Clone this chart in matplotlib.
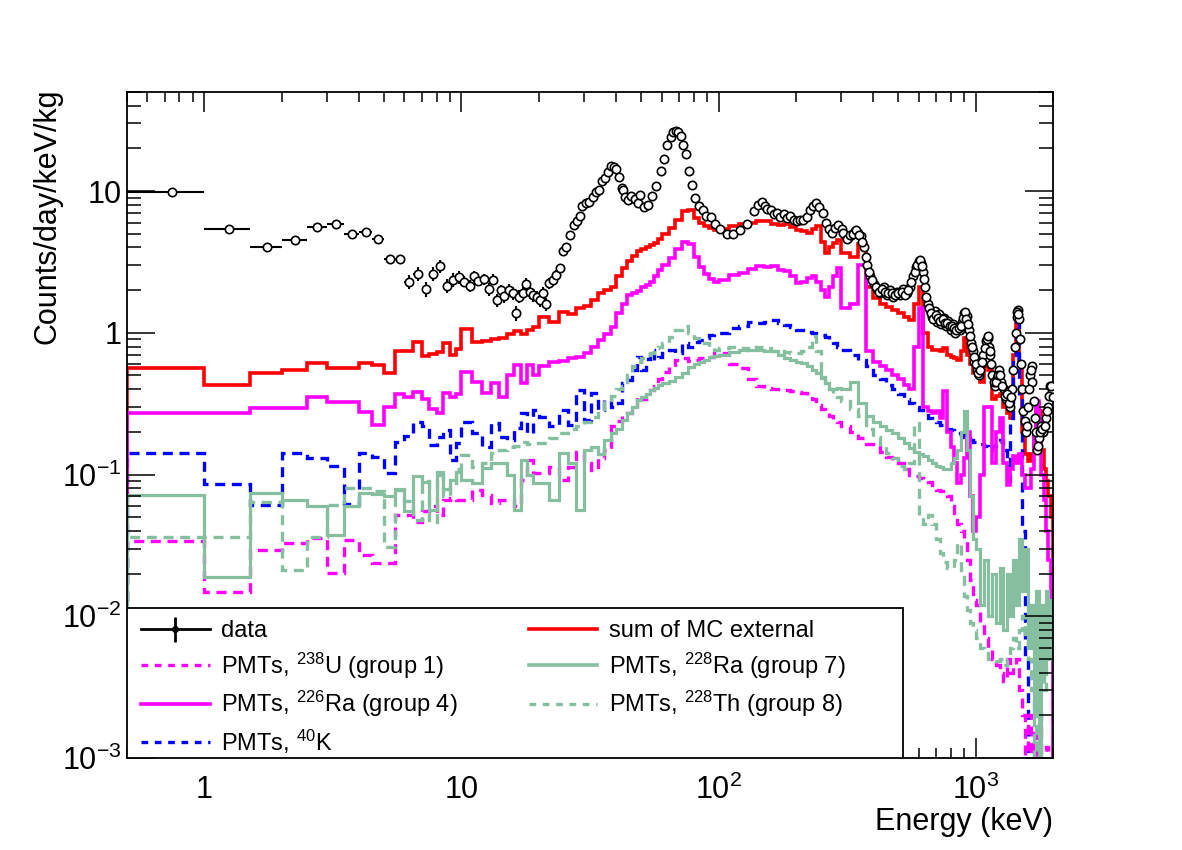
import numpy as np
import matplotlib
matplotlib.use("Agg")
import matplotlib.pyplot as plt
from matplotlib.lines import Line2D
from matplotlib.patches import Rectangle
from matplotlib.legend_handler import HandlerTuple
from matplotlib.ticker import FixedLocator, FixedFormatter, LogLocator, NullFormatter

plt.rcParams['font.family'] = ['Liberation Sans', 'DejaVu Sans']
plt.rcParams['mathtext.fontset'] = 'custom'
plt.rcParams['mathtext.rm'] = 'Liberation Sans'
plt.rcParams['mathtext.it'] = 'Liberation Sans:italic'
plt.rcParams['mathtext.bf'] = 'Liberation Sans:bold'
plt.rcParams['mathtext.default'] = 'regular'

# ---- data points (counts/day/keV/kg) ----
# 0.5 keV wide bins below 10 keV
low_e = [0.75, 1.25, 1.75, 2.25, 2.75, 3.25, 3.75, 4.25, 4.75, 5.25,
         5.75, 6.25, 6.75, 7.25, 7.75, 8.25, 8.75, 9.25, 9.75]
low_v = [9.9, 5.42, 4.06, 4.51, 5.57, 5.88, 4.94, 5.16, 4.59, 3.31,
         3.31, 2.30, 2.61, 2.05, 2.61, 2.94, 2.15, 2.37, 2.47]
low_err = [0.3, 0.2, 0.15, 0.17, 0.2, 0.22, 0.22, 0.25, 0.25, 0.25,
           0.25, 0.25, 0.28, 0.25, 0.28, 0.3, 0.25, 0.27, 0.27]
low_halfwidth = 0.25

mid_e = [10.2, 10.8, 11.2, 11.6, 12.2, 12.8, 13.3, 13.8, 14.2, 14.7, 15.3, 15.9, 16.3,
         16.8, 17.4, 17.9, 18.4, 19.0, 19.6, 20.2, 20.7, 21.3, 22.0, 22.7, 23.4, 24.2]
mid_v = [2.30, 2.15, 2.52, 2.33, 2.39, 2.03, 2.37, 1.71, 1.99, 1.82, 2.01, 1.91, 1.38,
         1.80, 1.91, 2.22, 1.93, 1.85, 1.79, 1.71, 1.91, 1.60, 2.24, 2.37, 2.56, 2.86]
mid_err = [0.2, 0.2, 0.22, 0.2, 0.21, 0.2, 0.21, 0.18, 0.2, 0.19, 0.2, 0.2, 0.17,
           0.19, 0.2, 0.21, 0.19, 0.19, 0.18, 0.18, 0.19, 0.17, 0.2, 0.2, 0.2, 0.21]

high_e = [24.9, 25.6, 26.4, 27.4, 28.1, 28.8, 29.5, 30.5, 31.4, 32.4, 33.3, 34.3, 35.3,
          36.3, 37.3, 38.2, 39.1, 39.8, 40.9, 42.0, 42.6, 43.3, 44.5, 45.8, 47.2, 48.6,
          49.3, 51.1, 53.2, 54.9, 56.9, 59.5, 61.1, 63.3, 65.2, 66.5, 68.1, 69.6, 71.4,
          73.0, 74.7, 76.6, 79.1, 80.9, 84.0, 86.8, 89.5, 93.1, 96.9, 101.7, 107.7, 114.3,
          121.5, 128.6, 136.8, 143, 147, 151, 155, 160, 164, 169, 174, 179, 185, 190, 196,
          202, 208, 214, 220, 227, 233, 240, 247, 254, 261, 268, 276, 284, 292, 301, 310,
          319, 328, 338, 348, 358, 368, 379, 390, 402, 414, 426, 439, 452, 465, 479, 493,
          508, 523, 539, 555, 571, 588, 600, 612, 624, 637, 650, 664, 678, 692, 706, 721,
          736, 752, 768, 784, 800, 817, 834, 851, 869, 887, 905, 915, 924, 943, 962, 975,
          990, 1010, 1030, 1051, 1072, 1094, 1116, 1128, 1140, 1163, 1186, 1210, 1234,
          1259, 1284, 1310, 1336, 1363, 1390, 1418, 1446, 1460, 1475, 1505, 1535, 1566,
          1597, 1630, 1650, 1663, 1697, 1731, 1765, 1800, 1836, 1873, 1911, 1949, 1980]
high_v = [3.75, 4.06, 4.92, 5.78, 6.10, 6.62, 7.86, 8.25, 8.44, 9.07, 9.91, 10.2, 11.7,
          12.3, 13.7, 15.1, 14.7, 14.3, 12.6, 10.5, 10.2, 9.07, 8.68, 9.16, 8.75, 8.25,
          9.4, 7.7, 8.0, 9.24, 10.8, 13.9, 16.8, 21.2, 23.9, 26.2, 26.6, 25.9, 24.3,
          21.2, 18.4, 13.9, 11.0, 8.9, 7.9, 7.4, 6.7, 6.6, 5.9, 5.4, 5.0, 5.0,
          5.3, 5.9, 7.2, 8.0, 8.4, 7.9, 7.5, 7.3, 6.9, 7.0, 6.6, 6.9, 6.5, 6.7, 6.3,
          6.1, 6.3, 6.2, 6.6, 7.4, 7.9, 8.2, 7.7, 7.0, 6.0, 5.4, 5.1, 5.5, 5.8, 5.4, 4.9,
          4.7, 4.9, 5.2, 5.1, 4.8, 4.0, 3.0, 2.5, 2.2, 2.05, 1.9, 2.1, 1.85, 2.0, 1.8, 1.95,
          1.85, 2.05, 1.9, 2.1, 2.5, 2.9, 3.2, 3.1, 2.7, 2.1, 1.6, 1.45, 1.3, 1.42, 1.2, 1.35,
          1.15, 1.28, 1.12, 1.22, 1.05, 1.15, 1.0, 1.1, 1.05, 1.2, 1.38, 1.3, 1.32, 1.05, 0.85, 0.75,
          0.62, 0.55, 0.5, 0.6, 0.7, 0.88, 0.92, 0.8, 0.7, 0.5, 0.42, 0.48, 0.55,
          0.45, 0.4, 0.34, 0.38, 0.3, 0.4, 0.8, 1.3, 1.45, 1.25, 0.6, 0.28, 0.2,
          0.3, 0.5, 0.58, 0.45, 0.25, 0.15, 0.18, 0.22, 0.2, 0.25, 0.3, 0.42, 0.38]
# further data points filling the dense band above 300 keV
band_e = [305, 315, 324, 333, 343, 353, 363, 374, 384, 396, 408, 420, 432, 446, 458, 472,
          486, 500, 515, 531, 547, 563, 580, 594, 606, 618, 630, 643, 657, 671, 685, 699,
          713, 728, 744, 760, 776, 792, 808, 825, 842, 860, 878, 896, 910, 920, 933, 952,
          968, 982, 1000, 1020, 1040, 1061, 1083, 1105, 1122, 1134, 1151, 1175, 1198, 1222,
          1246, 1271, 1297, 1323, 1350, 1376, 1404, 1432, 1453, 1468, 1490, 1520, 1550,
          1582, 1613, 1640, 1680, 1714, 1748, 1782, 1818, 1855, 1892, 1930, 1965, 1995]
band_v = [5.1, 4.6, 4.9, 5.0, 5.3, 4.9, 4.4, 3.4, 2.7, 2.35, 2.1, 1.95, 2.05, 1.95, 1.9, 1.9,
          1.85, 1.9, 1.95, 1.85, 2.0, 2.3, 2.7, 3.0, 3.25, 2.95, 2.4, 1.8, 1.5, 1.38, 1.25, 1.33,
          1.28, 1.22, 1.25, 1.18, 1.18, 1.12, 1.12, 1.08, 1.05, 1.08, 1.12, 1.28, 1.4, 1.25, 1.15, 0.95,
          0.8, 0.68, 0.6, 0.52, 0.55, 0.62, 0.78, 0.9, 0.95, 0.75, 0.6, 0.45, 0.45, 0.5,
          0.5, 0.42, 0.36, 0.37, 0.32, 0.35, 0.55, 1.0, 1.4, 1.35, 0.9, 0.4, 0.24,
          0.22, 0.4, 0.55, 0.33, 0.2, 0.16, 0.2, 0.21, 0.22, 0.28, 0.36, 0.42, 0.35]

# ---- MC histograms, common binning (keV) ----
mc_edges = np.concatenate([np.arange(0.5, 10, 0.5), np.arange(10, 20, 1),
                           np.arange(20, 60, 2), np.arange(60, 100, 4),
                           np.arange(100, 300, 10), np.arange(300, 1000, 25),
                           np.arange(1000, 2001, 40)])

sum_mc = [0.56, 0.43, 0.52, 0.55, 0.61, 0.56, 0.56, 0.61, 0.59, 0.52, 0.74, 0.74, 0.86, 0.69, 0.71, 0.73, 0.85, 0.70, 0.77,
          1.06, 0.86, 0.88, 0.90, 0.92, 0.98, 1.03, 0.98, 1.05, 1.10,
          1.30, 1.20, 1.40, 1.35, 1.50, 1.55, 1.71, 1.90, 2.00, 2.12, 2.50, 2.86, 3.19, 3.50, 3.76, 3.90, 4.00, 4.15, 4.30, 4.60,
          5.0, 5.5, 6.3, 7.2, 7.4, 6.5, 6.0, 5.7, 5.5, 5.3,
          5.4, 5.64, 5.9, 6.0, 6.13, 6.1, 5.9, 5.8, 5.9, 5.6, 5.34, 5.2, 5.06, 5.4, 5.64, 4.4, 3.66, 4.0, 4.3, 4.54,
          3.66, 3.40, 4.20, 2.10, 1.75, 1.60, 1.53, 1.45, 1.38, 1.30, 1.24, 1.60, 2.10, 1.00, 0.80, 0.76, 0.76, 0.74,
          0.78, 0.70, 0.68, 0.66, 0.64, 0.75, 0.92, 0.70, 0.60, 0.52,
          0.50, 0.45, 0.58, 0.55, 0.34, 0.36, 0.37, 0.30, 0.27, 0.25, 0.70, 1.40, 0.60, 0.20, 0.14, 0.125, 0.14, 0.20,
          0.32, 0.28, 0.15, 0.11, 0.09, 0.07, 0.05]
ra226 = [0.27, 0.272, 0.294, 0.294, 0.355, 0.327, 0.327, 0.278, 0.224, 0.30, 0.37, 0.35, 0.38, 0.34, 0.29, 0.27, 0.375, 0.35, 0.37,
         0.53, 0.45, 0.375, 0.44, 0.355, 0.50, 0.59, 0.44, 0.59, 0.50,
         0.58, 0.62, 0.63, 0.66, 0.68, 0.72, 0.80, 0.89, 0.98, 1.10, 1.38, 1.60, 1.86, 1.90, 1.96, 2.10, 2.18, 2.30, 2.50, 2.79,
         3.0, 3.37, 3.9, 4.4, 4.2, 3.4, 2.9, 2.6, 2.4, 2.3,
         2.37, 2.57, 2.64, 2.80, 2.94, 2.90, 2.94, 2.79, 2.75, 2.50, 2.24, 2.30, 2.45, 2.50, 2.30, 2.00, 1.80, 2.10, 2.50, 2.86,
         1.50, 1.60, 3.00, 0.75, 0.62, 0.58, 0.55, 0.50, 0.47, 0.43, 0.40, 0.80, 1.50, 0.30, 0.28, 0.27, 0.28, 0.25,
         0.39, 0.20, 0.157, 0.12, 0.087, 0.10, 0.13, 0.20, 0.07, 0.04,
         0.05, 0.10, 0.30, 0.30, 0.12, 0.20, 0.25, 0.12, 0.085, 0.11, 0.135, 0.12, 0.14, 0.10, 0.08, 0.08, 0.11, 0.20,
         0.33, 0.25, 0.10, 0.066, 0.04, 0.025, 0.006]
k40 = [0.141, 0.086, 0.061, 0.141, 0.13, 0.115, 0.062, 0.143, 0.134, 0.103, 0.171, 0.187, 0.236, 0.22, 0.162, 0.185, 0.206, 0.127, 0.167,
       0.236, 0.196, 0.157, 0.23, 0.185, 0.176, 0.212, 0.27, 0.196, 0.286,
       0.256, 0.22, 0.286, 0.224, 0.396, 0.243, 0.375, 0.286, 0.337, 0.30, 0.32, 0.44, 0.466, 0.55, 0.68, 0.548, 0.65, 0.76, 0.64, 0.68,
       0.72, 0.76, 0.72, 0.85, 0.80, 0.86, 0.89, 0.92, 0.96, 1.00,
       1.00, 1.08, 1.12, 1.20, 1.17, 1.20, 1.24, 1.17, 1.14, 1.10, 1.05, 1.04, 1.02, 1.00, 0.98, 0.96, 0.94, 0.90, 0.85, 0.80,
       0.76, 0.70, 0.64, 0.58, 0.50, 0.47, 0.43, 0.40, 0.37, 0.34, 0.32, 0.30, 0.286, 0.27, 0.25, 0.243, 0.235, 0.225,
       0.22, 0.21, 0.205, 0.20, 0.196, 0.19, 0.185, 0.18, 0.176, 0.17,
       0.17, 0.165, 0.16, 0.15, 0.16, 0.17, 0.176, 0.15, 0.09, 0.25, 0.70, 1.35, 0.35, 0.04, 0.005, 0, 0, 0,
       0, 0, 0, 0, 0, 0, 0]
u238 = [0.034, 0.0149, 0.0294, 0.0327, 0.0355, 0.0201, 0.0344, 0.027, 0.0237, 0.0237, 0.052, 0.052, 0.0465, 0.055, 0.06, 0.052, 0.066, 0.068, 0.066,
        0.066, 0.078, 0.072, 0.063, 0.066, 0.066, 0.06, 0.092, 0.127, 0.103,
        0.103, 0.113, 0.092, 0.113, 0.145, 0.12, 0.108, 0.13, 0.149, 0.22, 0.24, 0.263, 0.27, 0.286, 0.355, 0.34, 0.37, 0.396, 0.42, 0.47,
        0.53, 0.57, 0.64, 0.66, 0.63, 0.64, 0.66, 0.66, 0.68, 0.72,
        0.72, 0.60, 0.56, 0.47, 0.42, 0.41, 0.40, 0.40, 0.396, 0.39, 0.38, 0.375, 0.36, 0.34, 0.31, 0.29, 0.28, 0.26, 0.245, 0.235,
        0.22, 0.20, 0.18, 0.165, 0.157, 0.145, 0.134, 0.125, 0.12, 0.11, 0.10, 0.097, 0.094, 0.092, 0.088, 0.08, 0.078, 0.076,
        0.074, 0.07, 0.06, 0.05, 0.045, 0.04, 0.034, 0.025, 0.018, 0.013,
        0.012, 0.009, 0.007, 0.006, 0.005, 0.0045, 0.004, 0.0035, 0.005, 0.004, 0.0045, 0.005, 0.003, 0.002, 0, 0.002, 0, 0.0015,
        0, 0.002, 0, 0, 0.0012, 0, 0]
ra228 = [0.072, 0.019, 0.074, 0.066, 0.060, 0.0375, 0.060, 0.074, 0.073, 0.070, 0.079, 0.055, 0.097, 0.089, 0.056, 0.105, 0.079, 0.092, 0.105,
         0.092, 0.087, 0.111, 0.12, 0.12, 0.10, 0.056, 0.127, 0.10, 0.087,
         0.087, 0.066, 0.141, 0.12, 0.056, 0.149, 0.157, 0.14, 0.176, 0.196, 0.21, 0.243, 0.27, 0.30, 0.337, 0.35, 0.37, 0.396, 0.41, 0.43,
         0.44, 0.46, 0.49, 0.52, 0.57, 0.60, 0.62, 0.645, 0.67, 0.69,
         0.70, 0.73, 0.76, 0.76, 0.76, 0.75, 0.74, 0.70, 0.66, 0.64, 0.62, 0.61, 0.58, 0.55, 0.52, 0.48, 0.44, 0.40, 0.40, 0.41,
         0.40, 0.45, 0.32, 0.26, 0.235, 0.22, 0.205, 0.196, 0.18, 0.167, 0.155, 0.145, 0.14, 0.135, 0.127, 0.12, 0.115, 0.113,
         0.11, 0.11, 0.12, 0.13, 0.15, 0.20, 0.28, 0.15, 0.07, 0.035,
         0.03, 0.012, 0.025, 0.01, 0.02, 0.009, 0.022, 0.008, 0.02, 0.01, 0.025, 0.012, 0.035, 0.015, 0.03, 0.006, 0.012, 0.002,
         0.015, 0, 0.012, 0.004, 0.015, 0.005, 0.013]
th228 = [0.036, 0.036, 0.064, 0.0213, 0.036, 0.061, 0.08, 0.08, 0.076, 0.031, 0.078, 0.065, 0.048, 0.09, 0.046, 0.10, 0.07, 0.085, 0.11,
         0.137, 0.113, 0.12, 0.141, 0.15, 0.157, 0.16, 0.171, 0.165, 0.167,
         0.167, 0.18, 0.196, 0.21, 0.22, 0.235, 0.256, 0.28, 0.337, 0.36, 0.40, 0.42, 0.50, 0.58, 0.62, 0.66, 0.68, 0.72, 0.78, 0.80,
         0.85, 0.94, 1.05, 1.12, 1.00, 0.92, 0.88, 0.85, 0.80, 0.76,
         0.78, 0.80, 0.78, 0.76, 0.80, 0.78, 0.75, 0.74, 0.73, 0.72, 0.72, 0.74, 0.80, 0.95, 0.75, 0.49, 0.44, 0.40, 0.37, 0.355,
         0.33, 0.29, 0.26, 0.21, 0.185, 0.16, 0.141, 0.13, 0.115, 0.11, 0.12, 0.23, 0.05, 0.045, 0.052, 0.045, 0.035, 0.028,
         0.024, 0.022, 0.022, 0.025, 0.033, 0.02, 0.014, 0.011, 0.009, 0.008,
         0.007, 0.006, 0.0055, 0.005, 0.005, 0.0048, 0.005, 0.0045, 0.005, 0.006, 0.007, 0.006, 0.008, 0.01, 0.007, 0.005, 0.003, 0,
         0.009, 0.004, 0.01, 0.003, 0.011, 0.006, 0.01]

labels = ['data', r'PMTs, $^{238}$U (group 1)', r'PMTs, $^{226}$Ra (group 4)', r'PMTs, $^{40}$K',
          'sum of MC external', r'PMTs, $^{228}$Ra (group 7)', r'PMTs, $^{228}$Th (group 8)']

green = '#86bfa0'
dash = (0, (3, 2))
floor = 1e-5

fig = plt.figure(figsize=(11.82, 8.50), dpi=100)
ax = fig.add_axes([127 / 1182, 1 - 758 / 850, 926 / 1182, 666 / 850])
ax.set_xscale('log')
ax.set_yscale('log')
ax.set_xlim(0.5, 2000)
ax.set_ylim(1e-3, 50)

def hist(vals, **kw):
    v = np.clip(np.array(vals, dtype=float), floor, None)
    return ax.stairs(v, mc_edges, baseline=floor, fill=False, **kw)

hist(sum_mc, color='red', lw=2.6)
hist(k40, color='blue', lw=2.4, ls=dash)
hist(u238, color='magenta', lw=2.4, ls=dash)
hist(ra226, color='magenta', lw=2.6)
hist(th228, color=green, lw=2.4, ls=dash)
hist(ra228, color=green, lw=2.3)

mk = dict(fmt='o', color='k', mfc='white', mec='k', ms=6, mew=1.2, elinewidth=1.5, capsize=0, zorder=5)
ax.errorbar(low_e, low_v, xerr=low_halfwidth, yerr=low_err, **mk)
ax.errorbar(mid_e, mid_v, yerr=mid_err, **mk)
ax.plot(high_e, high_v, 'o', mfc='white', mec='k', ms=6, mew=1.2, zorder=5)
ax.plot(band_e, band_v, 'o', mfc='white', mec='k', ms=6, mew=1.2, zorder=5)

# axes style (ROOT-like)
ax.xaxis.set_major_locator(FixedLocator([1, 10, 100, 1000]))
ax.xaxis.set_major_formatter(FixedFormatter(['1', '10', r'$10^{2}$', r'$10^{3}$']))
ax.xaxis.set_minor_locator(LogLocator(base=10, subs=np.arange(2, 10)))
ax.xaxis.set_minor_formatter(NullFormatter())
ax.yaxis.set_major_locator(FixedLocator([1e-3, 1e-2, 1e-1, 1, 10]))
ax.yaxis.set_major_formatter(FixedFormatter([r'$10^{-3}$', r'$10^{-2}$', r'$10^{-1}$', '1', '10']))
ax.yaxis.set_minor_locator(LogLocator(base=10, subs=np.arange(2, 10)))
ax.yaxis.set_minor_formatter(NullFormatter())
ax.tick_params(which='both', direction='in', top=True, right=True, width=1.1, labelsize=22)
ax.tick_params(axis='x', which='major', length=14.4, pad=12)
ax.tick_params(axis='x', which='minor', length=7.2)
ax.tick_params(axis='y', which='major', length=20, pad=4)
ax.tick_params(axis='y', which='minor', length=10)
for s in ax.spines.values():
    s.set_linewidth(1.3)

fig.text(1053 / 1182, 1 - 822 / 850, 'Energy (keV)', ha='right', va='center', fontsize=22)
fig.text(48 / 1182, 1 - 88 / 850, 'Counts/day/keV/kg', ha='center', va='top', rotation=90, fontsize=22)

# legend
data_handle = (Line2D([], [], color='k', lw=2),
               Line2D([], [], color='k', ls='none', marker='|', ms=18, mew=2),
               Line2D([], [], color='k', ls='none', marker='o', ms=4))
handles = [data_handle,
           Line2D([], [], color='magenta', lw=2.4, ls=(0, (2, 2))),
           Line2D([], [], color='magenta', lw=2.6),
           Line2D([], [], color='blue', lw=2.4, ls=(0, (2, 2))),
           Line2D([], [], color='red', lw=2.6),
           Line2D([], [], color=green, lw=2.6),
           Line2D([], [], color=green, lw=2.4, ls=(0, (2, 2)))]
ax.legend(handles, labels, ncol=2, loc='upper left', bbox_to_anchor=(0.0, 0.228),
          frameon=False, fontsize=17, handlelength=2.9, handletextpad=0.5,
          columnspacing=3.0, labelspacing=0.35, borderpad=0.6, borderaxespad=0,
          handler_map={tuple: HandlerTuple(ndivide=1)})
ax.add_patch(Rectangle((0, 0), (903 - 127) / 926, (758 - 608) / 666, transform=ax.transAxes,
                       fill=True, facecolor='white', edgecolor='k', lw=1.3, zorder=6))
ax.get_legend().set_zorder(7)

fig.savefig('out.png', dpi=100)
